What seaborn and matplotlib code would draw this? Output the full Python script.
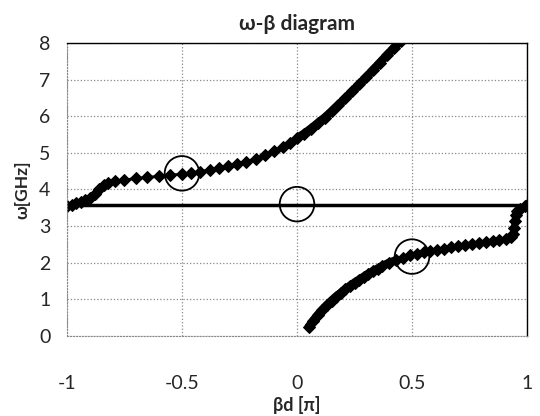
import numpy as np
import pandas as pd
import seaborn as sns
import matplotlib.pyplot as plt

# upper branch
up_x = [-1.00, -0.98, -0.96, -0.94, -0.92, -0.90, -0.88, -0.86, -0.84, -0.82,
        -0.79, -0.75, -0.70, -0.65, -0.60, -0.55, -0.50, -0.46, -0.42, -0.38,
        -0.34, -0.30, -0.26, -0.22, -0.18, -0.14, -0.10, -0.06, -0.03, 0.00,
        0.03, 0.06, 0.09, 0.12, 0.15, 0.18, 0.21, 0.24, 0.27, 0.30,
        0.33, 0.36, 0.39, 0.42, 0.45]
up_w = [3.55, 3.58, 3.62, 3.66, 3.70, 3.76, 3.88, 4.02, 4.12, 4.17,
        4.22, 4.26, 4.30, 4.33, 4.36, 4.39, 4.42, 4.45, 4.49, 4.53,
        4.58, 4.63, 4.69, 4.76, 4.84, 4.93, 5.04, 5.15, 5.27, 5.40,
        5.52, 5.66, 5.81, 5.96, 6.13, 6.31, 6.49, 6.68, 6.87, 7.06,
        7.26, 7.46, 7.66, 7.86, 8.05]

# lower branch
lo_x = [0.05, 0.07, 0.09, 0.11, 0.13, 0.15, 0.17, 0.19, 0.21, 0.23,
        0.25, 0.27, 0.29, 0.31, 0.33, 0.35, 0.37, 0.40, 0.43, 0.46,
        0.49, 0.52, 0.55, 0.58, 0.61, 0.64, 0.67, 0.70, 0.73, 0.76,
        0.79, 0.82, 0.85, 0.88, 0.91, 0.93, 0.94, 0.945, 0.948, 0.95,
        0.955, 0.97, 0.99, 1.00]
lo_w = [0.25, 0.42, 0.58, 0.72, 0.85, 0.97, 1.08, 1.18, 1.28, 1.37,
        1.46, 1.54, 1.62, 1.70, 1.77, 1.84, 1.91, 2.00, 2.07, 2.14,
        2.20, 2.25, 2.29, 2.33, 2.36, 2.39, 2.42, 2.45, 2.48, 2.50,
        2.53, 2.56, 2.59, 2.62, 2.66, 2.70, 2.78, 2.95, 3.15, 3.30,
        3.42, 3.48, 3.54, 3.58]

# flat line
flat_x = [-1.0, 1.0]
flat_w = [3.58, 3.58]

# highlighted points
circ_x = [-0.5, 0.0, 0.5]
circ_w = [4.44, 3.60, 2.17]

xticks = [-1, -0.5, 0, 0.5, 1]
xtick_labels = ['-1', '-0.5', '0', '0.5', '1']

sns.set_style('white')
plt.rcParams['font.family'] = ['Lato', 'DejaVu Sans']

fig = plt.figure(figsize=(5.4, 4.16), dpi=100)
ax = fig.add_axes([0.124, 0.192, 0.852, 0.705])

up = pd.DataFrame({'x': up_x, 'w': up_w})
lo = pd.DataFrame({'x': lo_x, 'w': lo_w})
fl = pd.DataFrame({'x': flat_x, 'w': flat_w})

sns.lineplot(data=fl, x='x', y='w', ax=ax, color='black', linewidth=2.5, sort=False)
sns.lineplot(data=up, x='x', y='w', ax=ax, color='black', linewidth=2,
             marker='D', markersize=6, markeredgecolor='black', sort=False)
sns.lineplot(data=lo, x='x', y='w', ax=ax, color='black', linewidth=2,
             marker='D', markersize=6, markeredgecolor='black', sort=False)
# parts where the excel markers overlap into a solid thick band
sns.lineplot(data=up[up.x >= 0], x='x', y='w', ax=ax, color='black', linewidth=6,
             sort=False, solid_capstyle='butt')
sns.lineplot(data=lo[lo.x <= 0.45], x='x', y='w', ax=ax, color='black', linewidth=6,
             sort=False, solid_capstyle='round')
sns.lineplot(data=lo[lo.x >= 0.93], x='x', y='w', ax=ax, color='black', linewidth=5,
             sort=False)
sns.scatterplot(x=circ_x, y=circ_w, ax=ax, s=620, facecolor='none',
                edgecolor='black', linewidth=1.3, zorder=5)

ax.set_xlim(-1, 1)
ax.set_ylim(0, 8)
ax.set_xticks(xticks)
ax.set_xticklabels(xtick_labels)
ax.set_yticks(range(0, 9))
ax.tick_params(axis='x', length=0, pad=28, labelsize=14)
ax.tick_params(axis='y', length=0, pad=12, labelsize=14)
ax.grid(True, color='#888888', linestyle=':', linewidth=0.9)
for s in ['left', 'bottom']:
    ax.spines[s].set_color('#888888')
    ax.spines[s].set_linestyle(':')
for s in ['top', 'right']:
    ax.spines[s].set_color('black')
    ax.spines[s].set_linewidth(1.0)

ax.set_title('ω-β diagram', fontsize=15, fontweight='bold', pad=9)
ax.set_xlabel('βd [π]', fontsize=13, fontweight='bold', labelpad=3)
ax.set_ylabel('ω[GHz]', fontsize=12.5, fontweight='bold', labelpad=6)

fig.savefig('out.png', dpi=100)
